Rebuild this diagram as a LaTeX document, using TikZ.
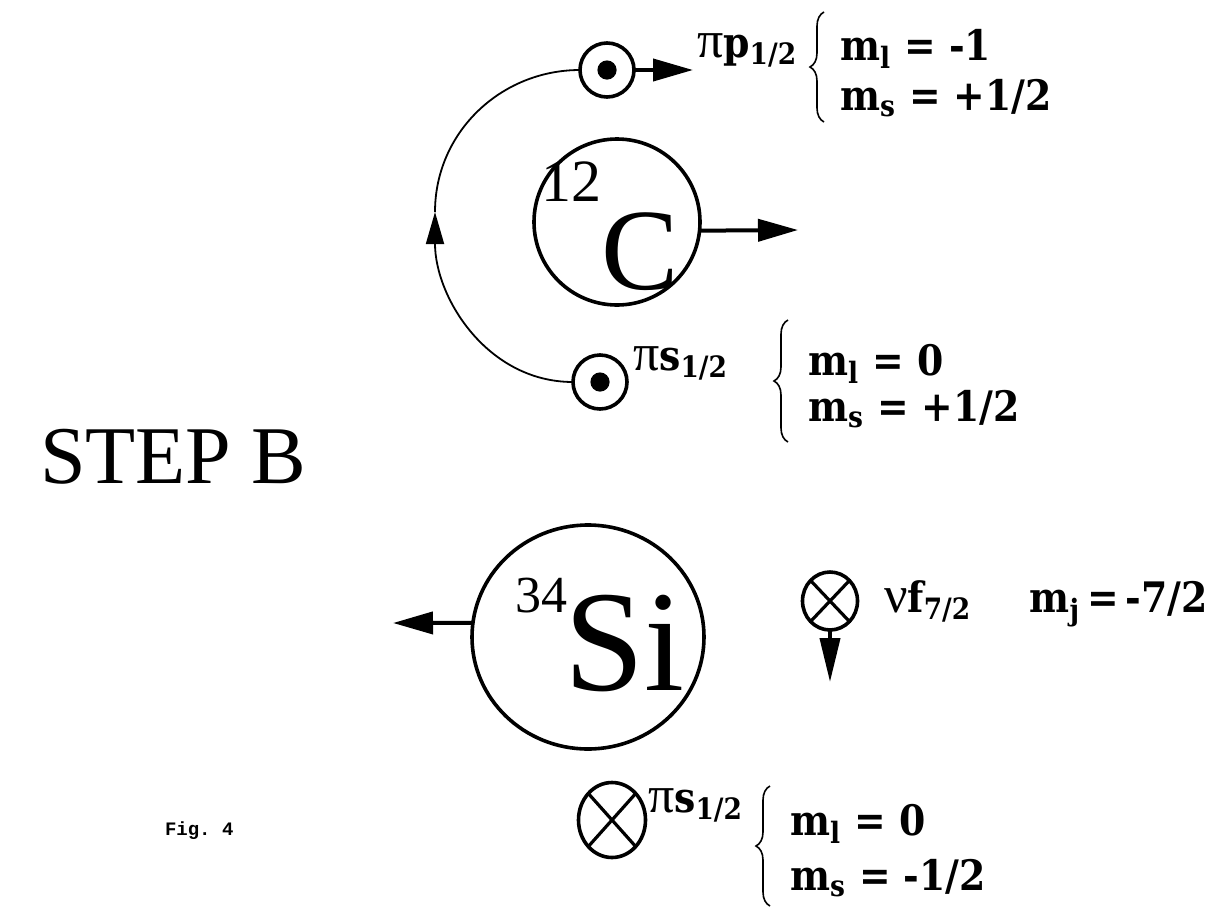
\documentclass[tikz,border=0pt]{standalone}
\usepackage{fontspec}
\setmainfont{Liberation Serif}
\setmonofont{Liberation Mono}
\newfontfamily\lblfont{DejaVu Serif}[FakeStretch=0.9]
\usetikzlibrary{arrows.meta, positioning, shapes.geometric, decorations.pathreplacing}

\newcommand{\qsub}[1]{\textsubscript{#1}}
\newcommand{\gk}[1]{{\rmfamily\mdseries\fontsize{26}{26}\selectfont #1}}
\newcommand{\nuclide}[4]{{\fontsize{#2}{#2}\selectfont\raisebox{#3}{#1}}\hspace{#4}}

\begin{document}
\begin{tikzpicture}[
    x=0.5pt, y=-0.5pt,
    every node/.style={inner sep=0pt, outer sep=0pt},
    orbit/.style={draw, circle, line width=1.8pt, minimum size=27pt},
    spinup/.style={orbit, path picture={\fill (path picture bounding box.center) circle (4.8pt);}},
    spindown/.style={draw, ellipse, line width=1.8pt, minimum width=27.5pt, minimum height=29pt,
        path picture={\draw[line width=1.6pt] (path picture bounding box.north east) -- (path picture bounding box.south west)
                      (path picture bounding box.north west) -- (path picture bounding box.south east);}},
    core/.style={draw, circle, line width=1.8pt},
    push/.style={-{Triangle[length=20pt, width=11pt]}, line width=2pt},
    lbl/.style={font=\lblfont\bfseries\fontsize{21}{23}\selectfont, anchor=base west},
    brc/.style={decorate, decoration={brace, amplitude=7pt}, line width=0.8pt}
]
    \useasboundingbox (0,0) rectangle (1232,911);

    % Nodes
    \node[font=\fontsize{41}{44}\selectfont, anchor=base west] (step) at (40,483) {STEP B};
    \node[font=\ttfamily\bfseries\fontsize{9.5}{10}\selectfont, anchor=base west] (fig) at (165,835) {Fig. 4};

    \node[spinup] (pp) at (607,70) {};
    \node[core, minimum size=83pt] (C) at (617,222) {};
    \node[font=\fontsize{58}{58}\selectfont, anchor=base west] (Cname) at (541,289)
        {\nuclide{12}{30}{44pt}{0pt}C};
    \node[spinup] (ps) at (600,382) {};

    \node[core, ellipse, minimum width=116pt, minimum height=112pt] (Si) at (588,637) {};
    \node[font=\fontsize{72}{72}\selectfont, anchor=base west] (Siname) at (515,690)
        {\nuclide{34}{26}{39pt}{-1.5pt}Si};
    \node[spindown] (nf) at (830,601) {};
    \node[spindown, minimum width=33.5pt, minimum height=37.5pt] (ps2) at (612,820) {};

    % Labels
    \node[lbl] (ppl) at (697,57) {\gk{π}p\qsub{1/2}};
    \node[lbl] (ppml) at (840,60) {m\qsub{l} = -1};
    \node[lbl] (ppms) at (840,110) {m\qsub{s} = +1/2};

    \node[lbl] (psl) at (633,370) {\gk{π}s\qsub{1/2}};
    \node[lbl] (psml) at (808,375) {m\qsub{l} = 0};
    \node[lbl] (psms) at (808,421) {m\qsub{s} = +1/2};

    \node[lbl] (nfl) at (884,612) {\gk{ν}f\qsub{7/2}};
    \node[lbl, anchor=base east] (nfmj) at (1208,612) {m\qsub{j}\,=\,-7/2};

    \node[lbl] (ps2l) at (648,812) {\gk{π}s\qsub{1/2}};
    \node[lbl] (ps2ml) at (790,835) {m\qsub{l} = 0};
    \node[lbl] (ps2ms) at (790,890) {m\qsub{s} = -1/2};

    % Arrows
    \coordinate (ppend) at (693,70);
    \coordinate (Cend) at (798,230);
    \coordinate (Siend) at (393,623);
    \coordinate (nfend) at (830,682);
    \draw[push] (pp) -- (ppend);
    \draw[push] (C.-6) -- (Cend);
    \draw[push] (Si.173) -- (Siend);
    \draw[-{Triangle[length=22pt, width=10pt]}, line width=2pt] (nf.south) -- (nfend);

    % Orbit of the proton
    \coordinate (turn) at (435,212);
    \draw[line width=0.9pt, -{Triangle[length=16pt, width=9pt]}] (ps.west) to[out=180, in=-90] (turn);
    \draw[line width=0.9pt] (turn) to[out=90, in=180] (pp.west);

    % Braces
    \draw[brc] (824,122) -- (824,12);
    \draw[brc] (788,442) -- (788,320);
    \draw[brc] (770,906) -- (770,786);

\end{tikzpicture}
\end{document}
